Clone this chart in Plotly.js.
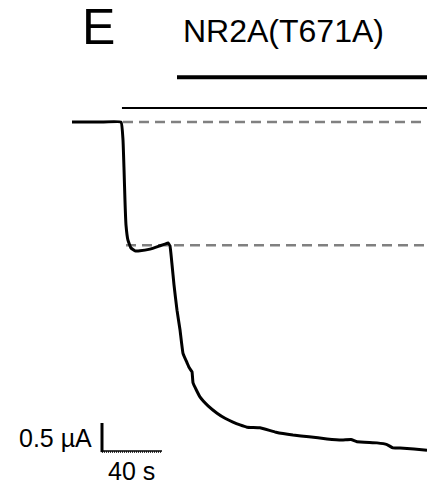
<!DOCTYPE html>
<html>
<head>
<meta charset="utf-8">
<script src="https://cdn.plot.ly/plotly-3.0.1.min.js"></script>
<style>html,body{margin:0;padding:0;background:#fff;}#chart{width:427px;height:487px;}</style>
</head>
<body>
<div id="chart"></div>
<script>
// Time (s) and current (µA) of the recorded trace
const traceTime = [0, 18.7, 32.7, 34, 34.7, 35.3, 36, 37.3, 39.3, 42, 45.3, 52, 58.7, 62, 64, 65.3, 66.7, 68, 70, 72, 74, 76.7, 78, 80, 80.7, 85.3, 90.7, 96.7, 102, 107.3, 112, 116.7, 125.3, 136, 147.3, 158, 170, 180, 186, 190, 203.3, 210, 214, 218.7, 228, 236.7];
const traceCurrent = [0, 0, 0, -0.32, -0.86, -1.39, -1.84, -2.11, -2.25, -2.30, -2.30, -2.27, -2.21, -2.18, -2.16, -2.21, -2.55, -2.91, -3.36, -3.71, -4.13, -4.30, -4.38, -4.46, -4.66, -4.91, -5.07, -5.20, -5.29, -5.36, -5.41, -5.45, -5.46, -5.54, -5.59, -5.62, -5.66, -5.68, -5.67, -5.71, -5.73, -5.76, -5.82, -5.82, -5.84, -5.86];

// Application bars: [start, end] in s and their level in µA
const drugBar = {start: 70, end: 236.7, level: 0.80};
const agonistBar = {start: 33.3, end: 236.7, level: 0.25};
// Reference dashed levels (µA) and where they start (s)
const dashLevels = [0, -2.2];
const dashStarts = [34, 36];
// Scale bar
const scaleT0 = 20, scaleTLen = 40;        // s
const scaleI0 = -5.875, scaleILen = 0.5;   // µA
const panelLabel = "E";
const titleText = "NR2A(T671A)";
const scaleILabel = "0.5 µA";
const scaleTLabel = "40 s";

const xRange = [-48, 236.67];
const yRange = [-6.518, 2.179];

const traces = [];
dashLevels.forEach((lv, i) => {
  traces.push({x: [dashStarts[i], xRange[1]], y: [lv, lv], mode: 'lines',
    line: {color: '#808080', width: 2.5, dash: '10px,6px'}, hoverinfo: 'skip'});
});
traces.push({x: [agonistBar.start, agonistBar.end], y: [agonistBar.level, agonistBar.level], mode: 'lines',
  line: {color: '#000', width: 2}});
traces.push({x: [drugBar.start, drugBar.end], y: [drugBar.level, drugBar.level], mode: 'lines',
  line: {color: '#000', width: 4}});
traces.push({x: traceTime, y: traceCurrent, mode: 'lines', line: {color: '#000', width: 3, shape: 'spline', smoothing: 0.3}});
traces.push({x: [scaleT0, scaleT0], y: [scaleI0 - 0.02, scaleI0 + scaleILen], mode: 'lines', line: {color: '#000', width: 3}});
traces.push({x: [scaleT0, scaleT0 + scaleTLen], y: [scaleI0, scaleI0], mode: 'lines', line: {color: '#000', width: 1.5}});
traces.push({x: [scaleT0, scaleT0 + scaleTLen], y: [scaleI0 - 0.02, scaleI0 - 0.02], mode: 'lines', line: {color: '#000', width: 1.5, dash: '1px,1px'}});

const font = 'Liberation Sans, Arial, sans-serif';
const layout = {
  width: 427, height: 487,
  margin: {l: 0, r: 0, t: 0, b: 0},
  showlegend: false,
  paper_bgcolor: '#fff', plot_bgcolor: '#fff',
  xaxis: {range: xRange, visible: false, fixedrange: true},
  yaxis: {range: yRange, visible: false, fixedrange: true},
  annotations: [
    {text: panelLabel, xref: 'paper', yref: 'paper', x: 98/427, y: 1 - 27/487, xanchor: 'center', yanchor: 'middle', showarrow: false, font: {family: font, size: 50, color: '#000'}},
    {text: titleText, xref: 'paper', yref: 'paper', x: 283/427, y: 1 - 31/487, xanchor: 'center', yanchor: 'middle', showarrow: false, font: {family: font, size: 32, color: '#000'}},
    {text: scaleILabel, xref: 'paper', yref: 'paper', x: 94/427, y: 1 - 438/487, xanchor: 'right', yanchor: 'middle', showarrow: false, font: {family: font, size: 25, color: '#000'}},
    {text: scaleTLabel, xref: 'paper', yref: 'paper', x: 131/427, y: 1 - 471/487, xanchor: 'center', yanchor: 'middle', showarrow: false, font: {family: font, size: 25, color: '#000'}}
  ]
};
Plotly.newPlot('chart', traces, layout, {staticPlot: true, displayModeBar: false});
</script>
</body>
</html>
